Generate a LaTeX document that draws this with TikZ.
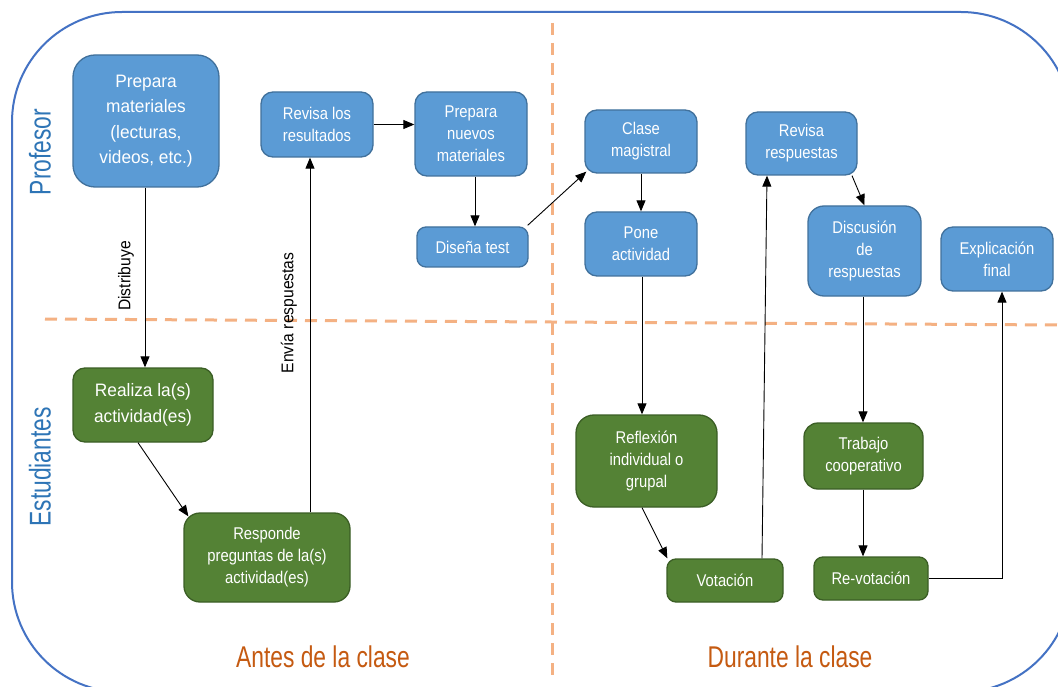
\documentclass[tikz,border=0pt]{standalone}
\usepackage{fontspec}
\setmainfont{Liberation Sans}
\newfontfamily\bxf{Liberation Sans}[FakeStretch=0.87]
\newfontfamily\bxw{Liberation Sans}[FakeStretch=0.96]
\newfontfamily\lanef{Liberation Sans}[FakeStretch=0.76]
\newfontfamily\elabf{Liberation Sans}[FakeStretch=0.92]
\usetikzlibrary{arrows.meta,calc}
\definecolor{bfill}{HTML}{5B9BD5}
\definecolor{bdraw}{HTML}{41719C}
\definecolor{gfill}{HTML}{548235}
\definecolor{gdraw}{HTML}{3B5E25}
\definecolor{framec}{HTML}{4472C4}
\definecolor{dashc}{HTML}{F4B183}
\definecolor{lanec}{HTML}{2E75B6}
\definecolor{phasec}{HTML}{C55A11}
\tikzset{
 box/.style={rectangle, rounded corners=12pt, line width=1.3pt, text=white, align=center, inner sep=0pt, font=\bxf\fontsize{17}{22}\selectfont},
 bbox/.style={box, fill=bfill, draw=bdraw},
 gbox/.style={box, fill=gfill, draw=gdraw},
 arr/.style={-{Triangle[length=11pt,width=9pt]}, line width=0.9pt, black},
 sepline/.style={dashc, line width=3pt, dash pattern=on 12pt off 8pt},
 lanelbl/.style={lanec, font=\lanef\fontsize{30}{30}\selectfont, rotate=90, inner sep=0pt},
 phaselbl/.style={phasec, font=\lanef\fontsize{30}{30}\selectfont, inner sep=0pt},
 elab/.style={black, font=\elabf\fontsize{17}{17}\selectfont, rotate=90, inner sep=0pt},
}
\begin{document}
\begin{tikzpicture}[x=1pt,y=-1pt]
\useasboundingbox (0,0) rectangle (1058,687);
\fill[white] (0,0) rectangle (1058,687);
\begin{scope}
\clip (0,0) rectangle (1058,687);
\draw[framec, line width=2pt, rounded corners=110pt] (12,12) rectangle (1071,692);
\end{scope}
% separators
\draw[sepline] (552,23) -- (552,680);
\draw[sepline] (45,319) -- (1058,325);
% lane and phase labels
\node[lanelbl] (prof) at (40,152) {Profesor};
\node[lanelbl] (est) at (40,467) {Estudiantes};
\node[phaselbl] (antes) at (323,657) {Antes de la clase};
\node[phaselbl] (durante) at (790,657) {Durante la clase};
% boxes
\node[bbox, minimum width=146pt, minimum height=132pt, rounded corners=22pt, font=\bxw\fontsize{18}{25.5}\selectfont] (pm) at (146,121) {Prepara\\materiales\\(lecturas,\\videos, etc.)};
\node[bbox, minimum width=112pt, minimum height=65pt] (rr) at (317,124.5) {Revisa los\\resultados};
\node[bbox, minimum width=112pt, minimum height=84pt] (pn) at (471,134) {Prepara\\nuevos\\materiales};
\node[bbox, minimum width=111pt, minimum height=40pt, rounded corners=9pt] (dt) at (472.5,247) {Diseña test};
\node[bbox, minimum width=112pt, minimum height=63pt] (cm) at (641,141.5) {Clase\\magistral};
\node[bbox, minimum width=112pt, minimum height=64pt] (pa) at (641,244) {Pone\\actividad};
\node[bbox, minimum width=111pt, minimum height=63pt] (rres) at (801.5,143.5) {Revisa\\respuestas};
\node[bbox, minimum width=113pt, minimum height=90pt, rounded corners=16pt] (dr) at (864.5,251) {Discusión\\de\\respuestas};
\node[bbox, minimum width=112pt, minimum height=64pt] (ef) at (997,259) {Explicación\\final};
\node[gbox, minimum width=140pt, minimum height=74pt, font=\bxw\fontsize{18}{26}\selectfont] (ra) at (143,405) {Realiza la(s)\\actividad(es)};
\node[gbox, minimum width=166pt, minimum height=89pt, rounded corners=16pt] (rp) at (267,557.5) {Responde\\preguntas de la(s)\\actividad(es)};
\node[gbox, minimum width=141pt, minimum height=92pt, rounded corners=18pt] (ri) at (646.5,461) {Reflexión\\individual o\\grupal};
\node[gbox, minimum width=116pt, minimum height=43pt, rounded corners=9pt] (vo) at (725,580.5) {Votación};
\node[gbox, minimum width=119pt, minimum height=66pt, rounded corners=14pt] (tc) at (863.5,456) {Trabajo\\cooperativo};
\node[gbox, minimum width=114pt, minimum height=43pt, rounded corners=9pt] (rv) at (871,578.5) {Re-votación};
% helper coordinates
\coordinate (x145) at (145,0);
\coordinate (x310) at (310,0);
\coordinate (x475) at (475,0);
\coordinate (x642) at (642,0);
\coordinate (x762) at (762,0);
\coordinate (x767) at (767,0);
\coordinate (x852) at (852,0);
\coordinate (x863) at (863,0);
\coordinate (x1002) at (1002,0);
% connectors
\draw[arr] (pm.south -| x145) -- (ra.north -| x145);
\node[elab] (l1) at (126,276) {Distribuye};
\draw[arr] ($(ra.south)+(-5,0)$) -- ($(rp.north west)+(5,4)$);
\draw[arr] (rp.north -| x310) -- (rr.south -| x310);
\node[elab] (l2) at (289,313) {Envía respuestas};
\draw[arr] (rr.east) -- (pn.west |- rr.east);
\draw[arr] (pn.south -| x475) -- (dt.north -| x475);
\draw[arr] ($(dt.north east)+(-1,-1)$) -- ($(cm.south west)+(2,-2)$);
\draw[arr] (cm.south) -- (pa.north);
\draw[arr] (pa.south -| x642) -- (ri.north -| x642);
\draw[arr] (ri.south -| x642) -- ($(vo.north west)+(1,0)$);
\draw[arr] (vo.north -| x762) -- (rres.south -| x767);
\draw[arr] (rres.south -| x852) -- (dr.north);
\draw[arr] (dr.south -| x863) -- (tc.north -| x863);
\draw[arr] (tc.south -| x863) -- (rv.north -| x863);
\draw[arr] (rv.east) -| (ef.south -| x1002);
\end{tikzpicture}
\end{document}
